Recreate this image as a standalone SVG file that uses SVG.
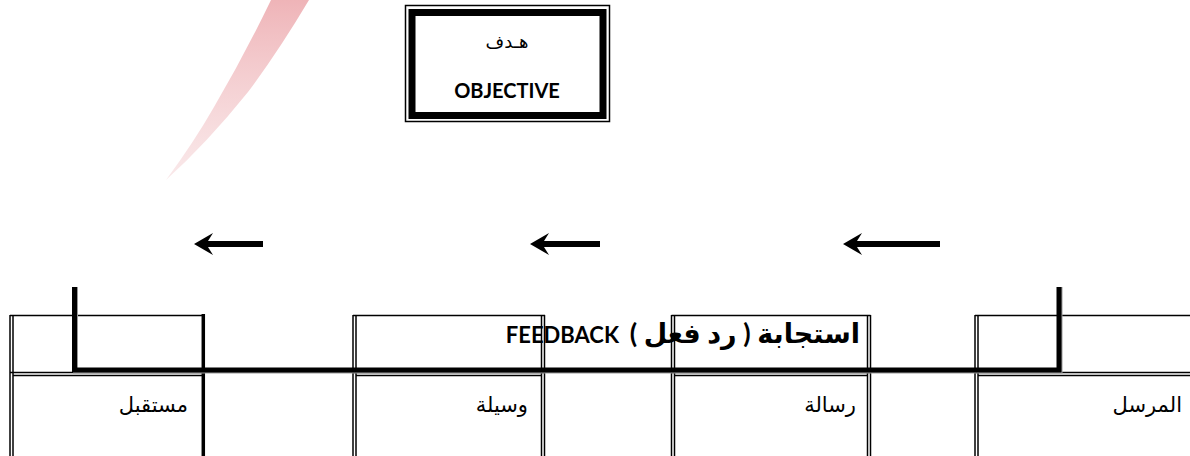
<svg xmlns="http://www.w3.org/2000/svg" width="1190" height="456" viewBox="0 0 1190 456">
  <defs>
    <linearGradient id="pink" x1="0" y1="0" x2="0" y2="1">
      <stop offset="0" stop-color="#eeb0b4" stop-opacity="0.95"/>
      <stop offset="1" stop-color="#f6dadc" stop-opacity="0.6"/>
    </linearGradient>
    <style>
      .thin { fill: none; stroke: #000; stroke-width: 1.5; }
      .thick { fill: none; stroke: #000; stroke-width: 3.5; }
      .lbl { font-family: "Liberation Serif", "DejaVu Sans", serif; font-size: 21px; fill: #000; }
      .bold { font-family: Lato, "Open Sans", "DejaVu Sans", sans-serif; font-weight: bold; fill: #000; }
      .conn { fill: none; stroke: #000; stroke-width: 5; }
      .arrow { fill: #000; }
    </style>
  </defs>
  <rect width="1190" height="456" fill="#fff"/>

  <!-- decorative pink wedge -->
  <path d="M271 0 L309 0 Q 278 52 248 92 Q 207 143 166 180 Q 194 142 214 107 Q 244 56 271 0 Z" fill="url(#pink)"/>

  <!-- objective node -->
  <g id="objective">
    <rect class="thin" x="405.5" y="5.5" width="204" height="116"/>
    <rect x="412" y="12.5" width="191" height="103" fill="none" stroke="#000" stroke-width="7"/>
    <text x="507" y="48" text-anchor="middle" font-family="'DejaVu Sans', sans-serif" font-size="18">هـدف</text>
    <text class="bold" x="507" y="98" text-anchor="middle" font-size="20">OBJECTIVE</text>
  </g>

  <!-- table cells -->
  <g id="receiver">
    <line class="thin" x1="10" y1="315.5" x2="204" y2="315.5"/>
    <line class="thin" x1="10" y1="315" x2="10" y2="456"/>
    <line class="thin" x1="13" y1="315" x2="13" y2="456"/>
    <line class="thick" x1="203.3" y1="314" x2="203.3" y2="456"/>
    <line class="thin" x1="10" y1="372.5" x2="203" y2="372.5"/>
    <line class="thin" x1="13" y1="375.5" x2="203" y2="375.5"/>
    <text class="lbl" x="188" y="412" text-anchor="end">مستقبل</text>
  </g>
  <g id="channel">
    <line class="thin" x1="353" y1="315.5" x2="545" y2="315.5"/>
    <line class="thin" x1="353" y1="315" x2="353" y2="456"/>
    <line class="thin" x1="356" y1="315" x2="356" y2="456"/>
    <line class="thin" x1="541.5" y1="315" x2="541.5" y2="456"/>
    <line class="thin" x1="544.5" y1="315" x2="544.5" y2="456"/>
    <line class="thin" x1="353" y1="372.5" x2="545" y2="372.5"/>
    <line class="thin" x1="356" y1="375.5" x2="541.5" y2="375.5"/>
    <text class="lbl" x="528" y="412" text-anchor="end">وسيلة</text>
  </g>
  <g id="message">
    <line class="thin" x1="671.5" y1="315.5" x2="870.5" y2="315.5"/>
    <line class="thin" x1="671.5" y1="315" x2="671.5" y2="456"/>
    <line class="thin" x1="674.5" y1="315" x2="674.5" y2="456"/>
    <line class="thin" x1="867.5" y1="315" x2="867.5" y2="456"/>
    <line class="thin" x1="870.5" y1="315" x2="870.5" y2="456"/>
    <line class="thin" x1="671.5" y1="372.5" x2="870.5" y2="372.5"/>
    <line class="thin" x1="674.5" y1="375.5" x2="867.5" y2="375.5"/>
    <text class="lbl" x="856" y="412" text-anchor="end">رسالة</text>
  </g>
  <g id="sender">
    <line class="thin" x1="975" y1="315.5" x2="1190" y2="315.5"/>
    <line class="thin" x1="975" y1="315" x2="975" y2="456"/>
    <line class="thin" x1="978" y1="315" x2="978" y2="456"/>
    <line class="thin" x1="975" y1="372.5" x2="1190" y2="372.5"/>
    <line class="thin" x1="978" y1="375.5" x2="1190" y2="375.5"/>
    <text class="lbl" x="1182" y="412" text-anchor="end">المرسل</text>
  </g>

  <!-- connectors -->
  <g id="connectors">
    <path d="M75.5 287 V371 H1060 V287" fill="none" stroke="#999" stroke-width="5"/>
    <path class="conn" d="M74.5 287 V370 H1059 V287"/>
    <path class="arrow" d="M194 244 L213 233 L208 241 L263 241 L263 247 L208 247 L213 255 Z"/>
    <path class="arrow" d="M530 244 L549 233 L544 241 L600 241 L600 247 L544 247 L549 255 Z"/>
    <path class="arrow" d="M843 244 L862 233 L857 241 L940 241 L940 247 L857 247 L862 255 Z"/>
  </g>

  <text id="feedback" class="bold" x="683" y="343" text-anchor="middle" direction="rtl" font-size="22" xml:space="preserve"><tspan font-size="27">استجابة ( رد فعل )</tspan>  FEEDBACK</text>
</svg>
